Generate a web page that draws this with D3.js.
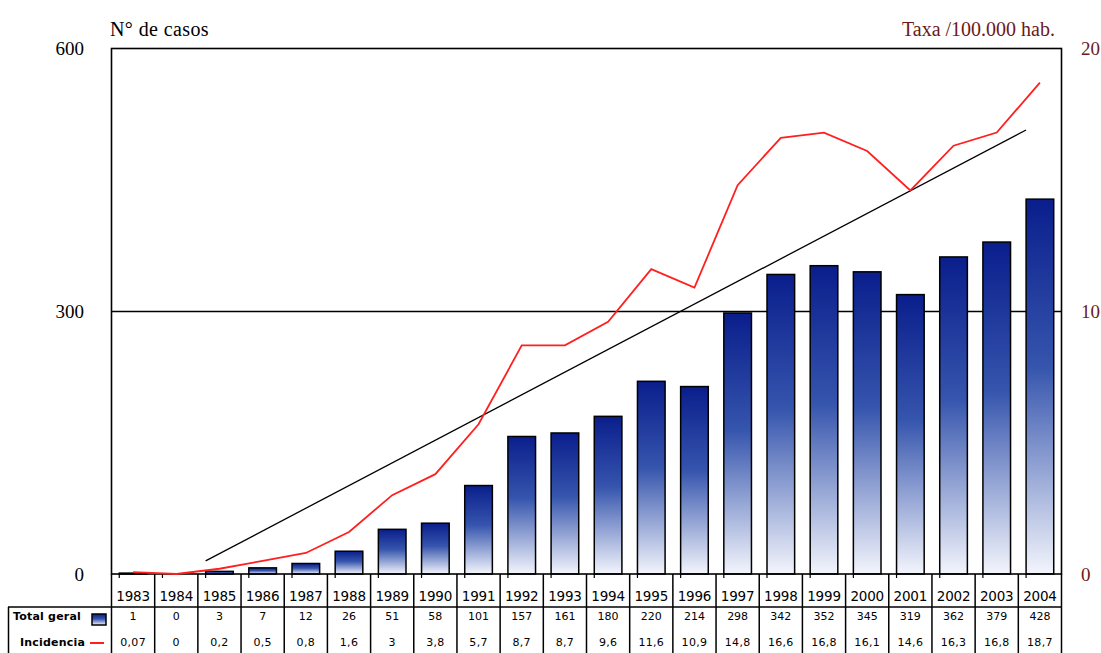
<!DOCTYPE html>
<html><head><meta charset="utf-8">
<script src="https://cdn.jsdelivr.net/npm/d3@7"></script>
<style>body{margin:0;background:#fff}svg{display:block}</style>
</head><body>
<svg id="c" width="1101" height="653"></svg>
<script>
const years = ["1983","1984","1985","1986","1987","1988","1989","1990","1991","1992","1993","1994","1995","1996","1997","1998","1999","2000","2001","2002","2003","2004"];
const totalGeral = [1,0,3,7,12,26,51,58,101,157,161,180,220,214,298,342,352,345,319,362,379,428];
const incidencia = [0.07,0,0.2,0.5,0.8,1.6,3,3.8,5.7,8.7,8.7,9.6,11.6,10.9,14.8,16.6,16.8,16.1,14.6,16.3,16.8,18.7];
const incidenciaLabels = ["0,07","0","0,2","0,5","0,8","1,6","3","3,8","5,7","8,7","8,7","9,6","11,6","10,9","14,8","16,6","16,8","16,1","14,6","16,3","16,8","18,7"];
const leftTicks = [0,300,600];
const rightTicks = [0,10,20];
const gridValues = [300];
const trendYears = ["1985","2004"];
const trendValues = [0.5,16.9];
const seriesNames = ["Total geral","Incidencia"];
const leftTitle = "N° de casos";
const rightTitle = "Taxa /100.000 hab.";

const svg = d3.select("#c");
const L = 111.5, R = 1061.5, T = 48.5, B = 574;
const darkRed = "#6b1a1a";

const xCell = d3.scaleBand().domain(years).range([L, R]).padding(0);
const xBar = d3.scaleBand().domain(years).range([L, R]).paddingInner(0.36).paddingOuter(0.18);
const yL = d3.scaleLinear().domain([0,600]).range([B, T]);
const yR = d3.scaleLinear().domain([0,20]).range([B, T]);

const defs = svg.append("defs");
const grad = defs.append("linearGradient").attr("id","barGrad").attr("x1",0).attr("y1",0).attr("x2",0).attr("y2",1);
grad.append("stop").attr("offset","0%").attr("stop-color","#0a1e8c");
grad.append("stop").attr("offset","45%").attr("stop-color","#3655ad");
grad.append("stop").attr("offset","100%").attr("stop-color","#f3f5fc");

svg.append("rect").attr("width",1101).attr("height",653).attr("fill","#fff");

// gridline
svg.selectAll(".grid").data(gridValues).enter().append("line")
  .attr("x1",L).attr("x2",R).attr("y1",d=>Math.round(yL(d))+0.5).attr("y2",d=>Math.round(yL(d))+0.5)
  .attr("stroke","#000").attr("stroke-width",1.5);

// bars
svg.selectAll(".bar").data(years.map((y,i)=>({y,v:totalGeral[i]}))).enter().append("rect")
  .attr("x",d=>xBar(d.y)).attr("width",xBar.bandwidth())
  .attr("y",d=>yL(d.v)).attr("height",d=>B - yL(d.v))
  .attr("fill","url(#barGrad)").attr("stroke","#000").attr("stroke-width",1.5);

// plot border
svg.append("rect").attr("x",L).attr("y",T).attr("width",R-L).attr("height",B-T)
  .attr("fill","none").attr("stroke","#000").attr("stroke-width",1.6);

// x ticks
svg.selectAll(".xt").data(years).enter().append("line")
  .attr("x1",d=>xBar(d)).attr("x2",d=>xBar(d)).attr("y1",B).attr("y2",B+4)
  .attr("stroke","#000").attr("stroke-width",1.2);

// trend line
const trendLine = d3.line().x((d,i)=>xBar(trendYears[i])).y(d=>yR(d));
svg.append("path").datum(trendValues).attr("d",trendLine)
  .attr("fill","none").attr("stroke","#000").attr("stroke-width",1.3);

// incidence line
const line = d3.line().x((d,i)=>xCell(years[i])+xCell.bandwidth()/2).y(d=>yR(d));
svg.append("path").datum(incidencia).attr("d",line)
  .attr("fill","none").attr("stroke","#ff1f1f").attr("stroke-width",1.8);

// axis labels
const serif = "'Liberation Serif','Times New Roman',serif";
svg.selectAll(".yl").data(leftTicks).enter().append("text")
  .attr("x",84).attr("y",d=>yL(d)).attr("dy","0.35em").attr("text-anchor","end")
  .attr("font-family",serif).attr("font-size",19).attr("fill","#000").text(d=>d);
svg.selectAll(".yr").data(rightTicks).enter().append("text")
  .attr("x",1081).attr("y",d=>yR(d)).attr("dy","0.35em").attr("text-anchor","start")
  .attr("font-family",serif).attr("font-size",19).attr("fill",darkRed).text(d=>d);
svg.append("text").attr("x",110).attr("y",36).attr("font-family",serif).attr("font-size",20).attr("letter-spacing",0.4).text(leftTitle);
svg.append("text").attr("x",1055).attr("y",36).attr("text-anchor","end").attr("font-family",serif).attr("font-size",20).attr("fill",darkRed).text(rightTitle);

// data table
const tbl = svg.append("g");
const bounds = years.map(y=>xCell(y)).concat([R]);
tbl.selectAll(".vl").data(bounds).enter().append("line")
  .attr("x1",d=>d).attr("x2",d=>d).attr("y1",B).attr("y2",653)
  .attr("stroke","#000").attr("stroke-width",1.5);
tbl.append("line").attr("x1",8).attr("x2",R).attr("y1",607).attr("y2",607).attr("stroke","#000").attr("stroke-width",1.5);
tbl.append("line").attr("x1",8.5).attr("x2",8.5).attr("y1",607).attr("y2",653).attr("stroke","#000").attr("stroke-width",1.5);

const sans = "'DejaVu Sans',sans-serif";
tbl.selectAll(".yr2").data(years).enter().append("text")
  .attr("x",d=>xCell(d)+xCell.bandwidth()/2).attr("y",601).attr("text-anchor","middle")
  .attr("font-family",sans).attr("font-size",13.5).attr("letter-spacing",-0.2).attr("fill","#000").text(d=>d);
tbl.selectAll(".tg").data(totalGeral).enter().append("text")
  .attr("x",(d,i)=>xCell(years[i])+xCell.bandwidth()/2).attr("y",620).attr("text-anchor","middle")
  .attr("font-family",sans).attr("font-size",11).attr("fill","#000").text(d=>d);
tbl.selectAll(".ic").data(incidenciaLabels).enter().append("text")
  .attr("x",(d,i)=>xCell(years[i])+xCell.bandwidth()/2).attr("y",646).attr("text-anchor","middle")
  .attr("font-family",sans).attr("font-size",11).attr("letter-spacing",0.3).attr("fill","#000").text(d=>d);

tbl.append("text").attr("x",13).attr("y",620).attr("font-family",sans).attr("font-weight","bold").attr("font-size",11).attr("letter-spacing",0.2).text(seriesNames[0]);
tbl.append("text").attr("x",20).attr("y",646).attr("font-family",sans).attr("font-weight","bold").attr("font-size",11).attr("letter-spacing",0.2).text(seriesNames[1]);
tbl.append("rect").attr("x",92).attr("y",614).attr("width",14).attr("height",11)
  .attr("fill","url(#barGrad)").attr("stroke","#000").attr("stroke-width",1.5);
tbl.append("line").attr("x1",90).attr("x2",104).attr("y1",643).attr("y2",643).attr("stroke","#ff1f1f").attr("stroke-width",2);
</script>
</body></html>
